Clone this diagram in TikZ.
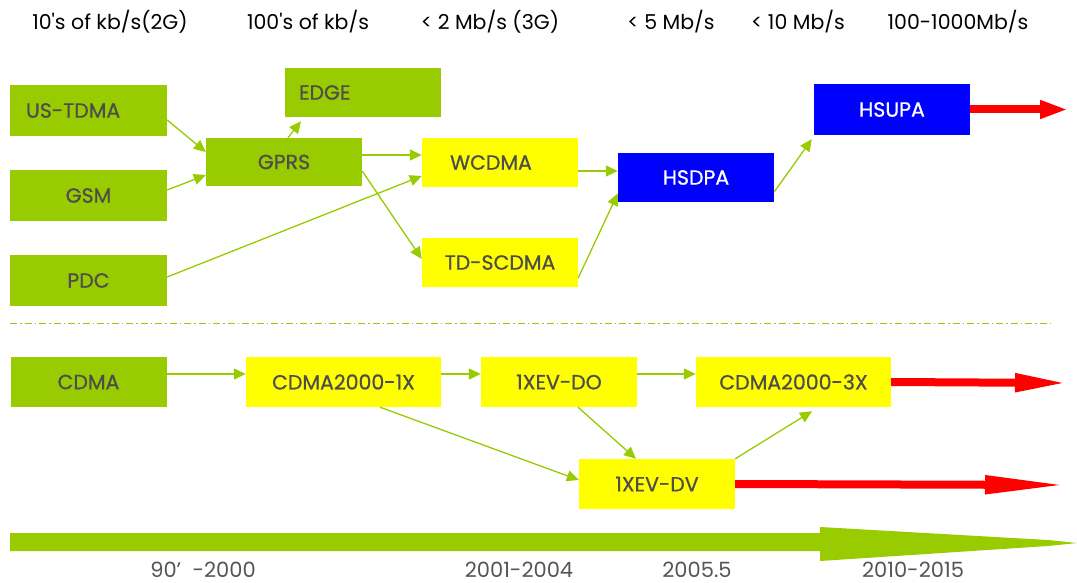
\documentclass[tikz,border=0pt]{standalone}
\usepackage{fontspec}
\setmainfont{Poppins}
\newfontfamily\boxfont[FakeBold=0.8]{Poppins}
\newfontfamily\lblfont{Poppins}
\usetikzlibrary{arrows.meta}
\definecolor{lgreen}{HTML}{99CC00}
\definecolor{yel}{HTML}{FFFF00}
\definecolor{blu}{HTML}{0000FF}
\definecolor{txtgray}{HTML}{4D4D4D}
\definecolor{lblgray}{HTML}{555555}
\tikzset{
  box/.style={rectangle, draw=none, inner sep=0pt, minimum width=156pt, minimum height=50pt,
    font=\boxfont\fontsize{20.5}{20.5}\selectfont, text=txtgray},
  gbox/.style={box, fill=lgreen},
  ybox/.style={box, fill=yel},
  bbox/.style={box, fill=blu, text=white},
  conn/.style={draw=lgreen, line width=1.3pt, -{Triangle[length=12pt,width=11pt]}, fill=lgreen},
  redarrow/.style={draw=red, line width=8pt},
  toplbl/.style={font=\lblfont\fontsize{20.5}{20.5}\selectfont, text=black},
  botlbl/.style={font=\fontsize{21}{21}\selectfont, text=lblgray},
}
\begin{document}
\begin{tikzpicture}[x=1pt,y=-1pt]
\useasboundingbox (0,0) rectangle (1077,583);
% top labels
\node[toplbl] (r1) at (110,22) {10's of kb/s(2G)};
\node[toplbl] (r2) at (308,22) {100's of kb/s};
\node[toplbl] (r3) at (490,22) {< 2 Mb/s (3G)};
\node[toplbl] (r4) at (671,22) {< 5 Mb/s};
\node[toplbl] (r5) at (798,22) {< 10 Mb/s};
\node[toplbl] (r6) at (958,22) {100-1000Mb/s};
% upper boxes
\node[gbox, minimum width=157pt, minimum height=51pt, text width=125pt, align=left] (ustdma) at (88.5,110.5) {US-TDMA};
\node[gbox, minimum width=157pt, minimum height=51pt] (gsm) at (88.5,195.5) {GSM};
\node[gbox, minimum width=157pt, minimum height=51pt] (pdc) at (88.5,280.5) {PDC};
\node[gbox, minimum height=49pt, text width=128pt, align=left] (edge) at (363,92.5) {EDGE};
\node[gbox, minimum height=48pt] (gprs) at (284,162) {GPRS};
\node[ybox, minimum height=49pt] (wcdma) at (500,162.5) {\hspace*{-18pt}WCDMA};
\node[ybox, minimum height=49pt] (tdscdma) at (500,262.5) {TD-SCDMA};
\node[bbox, minimum height=49pt] (hsdpa) at (696,177.5) {HSDPA};
\node[bbox, minimum height=51pt] (hsupa) at (892,109.5) {HSUPA};
% lower boxes
\node[gbox] (cdma) at (88.5,382) {CDMA};
\node[ybox, minimum width=195pt] (c1x) at (343.5,382) {CDMA2000-1X};
\node[ybox] (evdo) at (559,382) {1XEV-DO};
\node[ybox, minimum width=195pt] (c3x) at (793.5,382) {CDMA2000-3X};
\node[ybox] (evdv) at (657,484) {1XEV-DV};
% upper connectors
\draw[conn] ([yshift=-9.5pt]ustdma.east) -- ([yshift=10pt]gprs.west);
\draw[conn] ([yshift=5.5pt]gsm.east) -- ([yshift=-13pt]gprs.west);
\draw[conn] ([xshift=4pt]gprs.north) -- ([xshift=-62pt,yshift=-4pt]edge.south);
\draw[conn] ([yshift=7pt]gprs.east) -- ([yshift=7.5pt]wcdma.west);
\draw[conn] ([yshift=3.5pt]pdc.east) -- ([yshift=-13.5pt]wcdma.west);
\draw[conn] ([yshift=-9pt]gprs.east) -- ([yshift=3.5pt]tdscdma.west);
\draw[conn] ([yshift=-8.5pt]wcdma.east) -- ([yshift=6.5pt]hsdpa.west);
\draw[conn] ([yshift=-15.5pt]tdscdma.east) -- ([yshift=-16pt]hsdpa.west);
\draw[conn] ([yshift=-14.5pt]hsdpa.east) -- ([xshift=-2pt,yshift=-4pt]hsupa.south west);
\coordinate (hsupaend) at (1068,109.5);
\draw[redarrow, -{Triangle[length=28pt,width=17pt]}] (hsupa.east) -- (hsupaend);
% separator
\coordinate (sepl) at (10,323);
\coordinate (sepr) at (1050,323);
\draw[lgreen, line width=0.8pt, dash pattern=on 7pt off 3pt on 1.5pt off 3pt] (sepl) -- (sepr);
% lower connectors
\draw[conn] ([yshift=8pt]cdma.east) -- ([yshift=8pt]c1x.west);
\draw[conn] ([yshift=8pt]c1x.east) -- ([yshift=8pt]evdo.west);
\draw[conn] ([yshift=8pt]evdo.east) -- ([yshift=8pt]c3x.west);
\draw[conn] ([xshift=36.5pt]c1x.south) -- ([yshift=4pt]evdv.west);
\draw[conn] ([xshift=19pt]evdo.south) -- ([xshift=-21pt]evdv.north);
\draw[conn] (evdv.north east) -- ([xshift=18.5pt,yshift=-4pt]c3x.south);
\coordinate (c3xend) at (1068,383);
\coordinate (evdvend) at (1068,485);
\draw[redarrow, -{Triangle[length=53pt,width=17pt]}] (c3x.east) -- (c3xend);
\draw[redarrow, -{Triangle[length=83pt,width=17pt]}] (evdv.east) -- (evdvend);
% time arrow
\fill[lgreen] (10,533) -- (820,533) -- (820,527) -- (1048,540) -- (1077,543) -- (1048,546)
  -- (820,561) -- (820,551) -- (10,551) -- cycle;
% bottom labels
\node[botlbl] (y1) at (203,570) {90’\ \ -2000};
\node[botlbl] (y2) at (519,570) {2001-2004};
\node[botlbl] (y3) at (697,570) {2005.5};
\node[botlbl] (y4) at (913,570) {2010-2015};
\end{tikzpicture}
\end{document}
